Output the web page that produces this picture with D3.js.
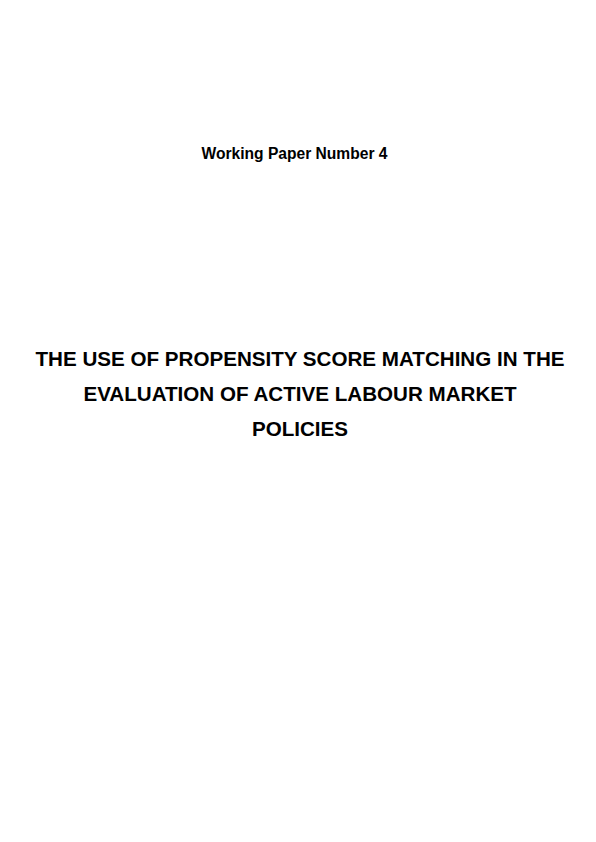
<!DOCTYPE html>
<html>
<head>
<meta charset="utf-8">
<script src="https://cdn.jsdelivr.net/npm/d3@7"></script>
<style>
  html, body { margin: 0; padding: 0; background: #fff; }
  text { font-family: "Liberation Sans", Arial, sans-serif; font-weight: bold; fill: #000; }
</style>
</head>
<body>
<svg class="page" width="596" height="842"></svg>
<script>
const PAGE_WIDTH = 596;
const PAGE_HEIGHT = 842;

const subtitleLines = ["Working Paper Number 4"];
const titleLines = [
    "THE USE OF PROPENSITY SCORE MATCHING IN THE",
    "EVALUATION OF ACTIVE LABOUR MARKET",
    "POLICIES"
];

const svg = d3.select("svg.page");

svg.append("rect")
    .attr("width", PAGE_WIDTH)
    .attr("height", PAGE_HEIGHT)
    .attr("fill", "#fff");

// each block is laid out on a point scale so lines are evenly spaced
const subtitleY = d3.scalePoint()
    .domain(d3.range(subtitleLines.length))
    .range([159, 159]);

svg.selectAll("text.subtitle")
    .data(subtitleLines)
    .enter().append("text")
    .attr("class", "subtitle")
    .attr("x", 294.5)
    .attr("y", (d, i) => subtitleY(i))
    .attr("text-anchor", "middle")
    .attr("font-size", 15.6)
    .text(d => d);

const titleY = d3.scalePoint()
    .domain(d3.range(titleLines.length))
    .range([366, 436]);

svg.selectAll("text.title")
    .data(titleLines)
    .enter().append("text")
    .attr("class", "title")
    .attr("x", 300)
    .attr("y", (d, i) => titleY(i))
    .attr("text-anchor", "middle")
    .attr("font-size", 20.6)
    .text(d => d);
</script>
</body>
</html>
